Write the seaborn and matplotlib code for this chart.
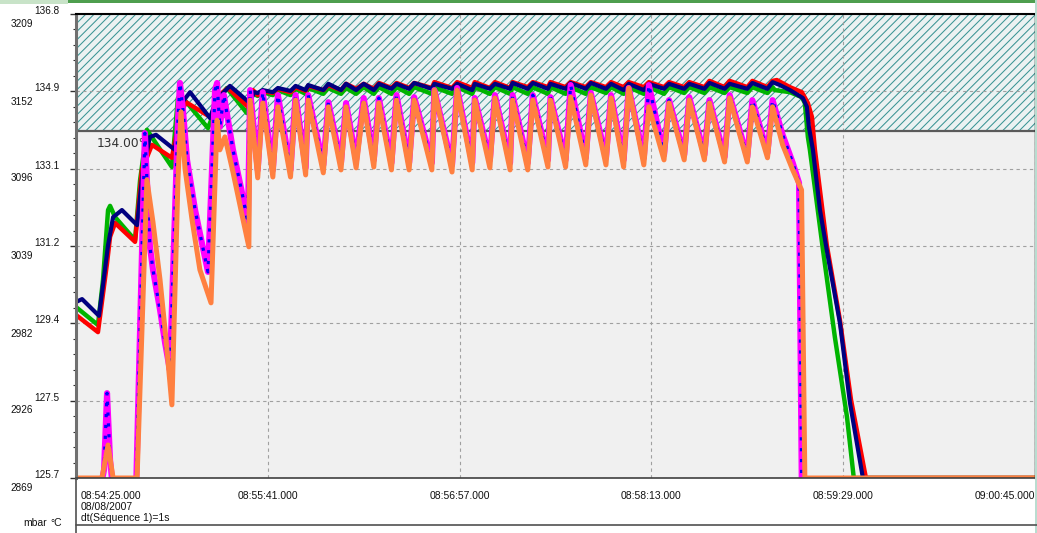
import matplotlib
matplotlib.use("Agg")
import matplotlib.pyplot as plt
import seaborn as sns
import pandas as pd
from matplotlib.ticker import AutoMinorLocator
from matplotlib.patches import Rectangle
from matplotlib.lines import Line2D
from matplotlib.transforms import ScaledTranslation

# ---------------- axis data ----------------
x_ticks = [0, 76, 152, 228, 304, 380]          # seconds after 08:54:25
x_labels = ["08:54:25.000", "08:55:41.000", "08:56:57.000",
            "08:58:13.000", "08:59:29.000", "09:00:45.000"]
temp_ticks = [125.7, 127.55, 129.4, 131.25, 133.1, 134.95, 136.8]
temp_labels = ["125.7", "127.5", "129.4", "131.2", "133.1", "134.9", "136.8"]
mbar_ticks = [2869, 2926, 2982, 3039, 3096, 3152, 3209]
threshold = 134.0
threshold_label = "134.00°C"

# ---------------- pulse timing (s) ----------------
tooth_peak_t = [69, 74, 80, 87, 92, 100, 107, 114, 120, 127, 134, 142, 151, 158, 166,
                173, 181, 188, 196, 204, 212, 219, 227, 235, 243, 251, 259, 268, 276]
tooth_trough_t = [72, 78, 85, 91, 98, 105, 111, 118, 125, 132, 141, 149, 157, 164,
                  172, 179, 187, 194, 202, 210, 217, 225, 233, 241, 249, 257, 266, 274]

# ---------------- navy series ----------------
navy_early_t = [0, 2.4, 9.1, 10.7, 12.7, 14.7, 18.2, 24.2, 26.5, 29.3, 31.7, 39.2, 41.2,
                45.2, 53.1, 55.5, 61.0, 68.9, 70.5]
navy_early_v = [129.91, 129.98, 129.58, 130.32, 131.27, 131.94, 132.11, 131.75, 133.07,
                133.86, 133.91, 133.55, 134.62, 134.93, 134.31, 134.74, 135.08, 134.67, 134.93]
navy_trough_v = [134.91, 134.93, 134.96, 134.98, 134.98, 134.98, 134.98, 134.98, 135.01, 135.01,
                 135.01, 135.01, 134.98, 135.01, 135.01, 135.01, 135.01, 135.01, 135.01, 135.01,
                 134.98, 134.98, 135.01, 135.01, 135.01, 135.01, 135.01, 135.01]
navy_peak_v = [134.98, 135.03, 135.08, 135.10, 135.13, 135.13, 135.13, 135.13, 135.13, 135.15,
               135.13, 135.13, 135.13, 135.13, 135.15, 135.15, 135.13, 135.15, 135.15, 135.13,
               135.13, 135.13, 135.13, 135.13, 135.15, 135.13, 135.15, 135.17]
navy_tail_t = [278.9, 282.9, 288.0, 289.6, 290.4, 292.0, 294.8, 297.5, 302.7, 306.7, 311.8, 380]
navy_tail_v = [135.10, 134.98, 134.79, 134.58, 134.10, 133.55, 132.11, 131.15, 129.41,
               127.49, 125.70, 125.70]

# ---------------- red series ----------------
red_early_t = [0, 8.7, 12.3, 13.5, 15.5, 23.4, 26.1, 30.1, 38.0, 41.2, 43.6, 53.9, 57.8,
               60.2, 68.1, 70.1]
red_early_v = [129.60, 129.19, 130.84, 131.47, 131.80, 131.35, 133.07, 133.67, 133.36,
               134.38, 134.69, 134.31, 134.91, 135.03, 134.58, 134.98]
red_trough_v = [134.86, 134.91, 134.93, 134.96, 134.98, 134.98, 135.01, 135.01, 135.03, 135.03,
                135.03, 135.03, 135.03, 135.03, 135.03, 135.05, 135.05, 135.05, 135.05, 135.05,
                135.05, 135.05, 135.05, 135.05, 135.05, 135.05, 135.05, 135.05]
red_peak_v = [134.96, 135.01, 135.05, 135.08, 135.10, 135.13, 135.13, 135.15, 135.15, 135.15,
              135.17, 135.17, 135.17, 135.17, 135.17, 135.17, 135.17, 135.17, 135.17, 135.17,
              135.17, 135.17, 135.17, 135.17, 135.20, 135.20, 135.20, 135.20]
red_tail_t = [277.7, 282.9, 287.6, 290.0, 291.6, 292.8, 297.5, 302.7, 307.1, 313.0, 380]
red_tail_v = [135.22, 135.05, 134.93, 134.67, 134.34, 133.55, 131.27, 129.48, 127.57,
              125.70, 125.70]

# ---------------- green series ----------------
green_early_t = [0, 8.7, 10.7, 12.7, 13.5, 15.5, 23.4, 25.4, 28.1, 38.0, 40.4, 42.4, 52.3,
                 57.1, 59.8, 67.7, 69.7]
green_early_v = [129.79, 129.36, 130.44, 132.11, 132.21, 131.94, 131.39, 132.83, 134.03,
                 133.14, 134.79, 134.79, 134.07, 134.81, 135.03, 134.43, 134.91]
green_trough_v = [134.84, 134.86, 134.86, 134.89, 134.89, 134.89, 134.89, 134.89, 134.89, 134.89,
                  134.89, 134.89, 134.89, 134.89, 134.89, 134.89, 134.89, 134.89, 134.89, 134.91,
                  134.89, 134.89, 134.89, 134.91, 134.91, 134.91, 134.91, 134.91]
green_peak_v = [134.93, 134.98, 135.01, 135.03, 135.03, 135.03, 135.05, 135.05, 135.05, 135.05,
                135.05, 135.05, 135.05, 135.05, 135.05, 135.05, 135.05, 135.05, 135.05, 135.05,
                135.05, 135.05, 135.05, 135.05, 135.05, 135.05, 135.05, 135.05]
green_tail_t = [276.9, 282.9, 287.6, 288.8, 290.0, 290.8, 296.0, 300.7, 305.5, 308.2, 380]
green_tail_v = [134.98, 134.93, 134.81, 134.67, 133.86, 133.55, 131.15, 129.07, 127.16,
                125.70, 125.70]

# ---------------- magenta series (blue dotted follows it) ----------------
mag_early_t = [0, 9.5, 11.1, 12.3, 13.5, 14.7, 23.8, 27.3, 28.1, 29.3, 30.5, 33.3, 35.3, 37.2,
               40.4, 41.2, 42.4, 44.0, 47.2, 49.9, 52.3, 55.1, 55.9, 57.0, 58.6, 62.2, 65.8, 68.1]
mag_early_v = [125.40, 125.40, 125.89, 127.73, 126.13, 125.40, 125.40, 133.95, 132.83, 131.23,
               130.68, 129.72, 128.93, 128.28, 134.26, 135.15, 134.50, 133.31, 132.11, 131.32,
               130.63, 134.98, 135.15, 134.10, 134.86, 133.55, 132.52, 131.80]
mag_peak_v = [134.98, 134.93, 134.86, 134.86, 134.86, 134.69, 134.67, 134.79, 134.79, 134.86,
              134.81, 134.98, 135.03, 134.79, 134.86, 134.86, 134.86, 134.81, 135.10, 134.91,
              134.86, 135.03, 135.10, 134.74, 134.81, 134.74, 134.86, 134.74, 134.74]
mag_trough_v = [133.07, 133.07, 133.07, 133.12, 133.19, 133.24, 133.31, 133.31, 133.24, 133.24,
                133.24, 133.19, 133.24, 133.31, 133.24, 133.24, 133.31, 133.31, 133.36, 133.36,
                133.31, 133.36, 133.43, 133.43, 133.43, 133.38, 133.38, 133.48]
mag_tail_t = [280, 284, 286.5, 287.6, 380]
mag_tail_v = [133.91, 133.24, 132.76, 125.40, 125.40]

# ---------------- orange series ----------------
org_early_t = [0, 10.3, 12.7, 14.7, 24.2, 28.1, 30.5, 33.3, 35.7, 38.0, 40.4, 41.6, 43.2,
               46.0, 49.1, 53.5, 55.9, 57.0, 59.0, 62.2, 65.8, 68.5]
org_early_v = [125.70, 125.70, 126.49, 125.70, 125.70, 132.83, 131.82, 130.44, 128.99, 127.45,
               132.83, 134.46, 133.10, 131.87, 130.68, 129.89, 134.26, 133.55, 133.86, 133.02,
               131.99, 131.23]
org_peak_v = [134.74, 134.67, 134.58, 134.74, 134.74, 134.58, 134.58, 134.67, 134.67, 134.74,
              134.74, 134.98, 134.98, 134.74, 134.79, 134.74, 134.74, 134.74, 134.81, 134.86,
              134.79, 135.03, 134.58, 134.67, 134.74, 134.67, 134.79, 134.58, 134.58]
org_trough_v = [132.88, 132.90, 132.90, 132.95, 133.00, 133.07, 133.12, 133.14, 133.07, 133.07,
                133.07, 133.02, 133.07, 133.12, 133.07, 133.07, 133.14, 133.14, 133.19, 133.19,
                133.14, 133.19, 133.31, 133.31, 133.31, 133.26, 133.26, 133.36]
org_tail_t = [280, 284, 287.5, 288.8, 380]
org_tail_v = [133.67, 133.07, 132.59, 125.70, 125.70]


def smooth_series(early_t, early_v, trough_v, peak_v, tail_t, tail_v):
    t, v = list(early_t), list(early_v)
    for i in range(len(tooth_trough_t)):
        t += [tooth_trough_t[i], tooth_peak_t[i + 1]]
        v += [trough_v[i], peak_v[i]]
    return pd.DataFrame({"t": t + tail_t, "v": v + tail_v})


def pulse_series(early_t, early_v, peak_v, trough_v, tail_t, tail_v):
    t, v = list(early_t), list(early_v)
    for i in range(len(tooth_peak_t)):
        t.append(tooth_peak_t[i]); v.append(peak_v[i])
        if i < len(tooth_trough_t):
            t.append(tooth_trough_t[i]); v.append(trough_v[i])
    return pd.DataFrame({"t": t + tail_t, "v": v + tail_v})


sns.set_style("white")
plt.rcParams["font.family"] = ["Liberation Sans", "DejaVu Sans"]
plt.rcParams["hatch.linewidth"] = 0.75

W, H = 1037, 533
fig = plt.figure(figsize=(W / 100, H / 100), dpi=100)
fig.patch.set_facecolor("white")
ax = fig.add_axes([76 / W, 55 / H, 959 / W, 464 / H])
ax.set_facecolor("#f0f0f0")

# alarm zone
ax.axhspan(threshold, 136.8, facecolor="#ebf2f2", edgecolor="#3a9494", hatch="////",
           linewidth=0, zorder=0.5)
ax.axhline(threshold, color="#5a5a5a", lw=1.6, zorder=1)
ax.text(8.3, 133.71, threshold_label, fontsize=8.8, color="#303030", va="center",
        ha="left", family=["DejaVu Sans"], zorder=1.8)

styles = [
    (smooth_series(green_early_t, green_early_v, green_trough_v, green_peak_v, green_tail_t, green_tail_v), "#00b400", 3.2, 2.0, "-"),
    (smooth_series(red_early_t, red_early_v, red_trough_v, red_peak_v, red_tail_t, red_tail_v), "#ff0000", 3.2, 2.1, "-"),
    (smooth_series(navy_early_t, navy_early_v, navy_trough_v, navy_peak_v, navy_tail_t, navy_tail_v), "#000080", 3.0, 2.2, "-"),
    (pulse_series(mag_early_t, mag_early_v, mag_peak_v, mag_trough_v, mag_tail_t, mag_tail_v), "#ff00ff", 4.4, 2.3, "-"),
    (pulse_series(mag_early_t, mag_early_v, mag_peak_v, mag_trough_v, mag_tail_t, mag_tail_v), "#0000ff", 2.3, 2.4, (0, (1.0, 2.4))),
    (pulse_series(org_early_t, org_early_v, org_peak_v, org_trough_v, org_tail_t, org_tail_v), "#ff8040", 3.6, 2.5, "-"),
]
for df, col, lw, z, ls in styles:
    sns.lineplot(data=df, x="t", y="v", ax=ax, color=col, linewidth=lw, estimator=None,
                 sort=False, zorder=z, linestyle=ls, solid_joinstyle="round")

ax.set_xlabel("")
ax.set_ylabel("")
ax.set_xlim(0, 380)
ax.set_ylim(125.7, 136.8)

ax.grid(True, which="major", axis="both", color="#a0a0a0", linestyle=(0, (3, 3)), linewidth=0.8)

# x axis
ax.set_xticks(x_ticks, x_labels)
ax.tick_params(axis="x", length=6, width=0.8, color="#b0b0b0", pad=3.5, labelsize=7.5,
               labelcolor="#111111")
xl = ax.get_xticklabels()
xl[0].set_ha("left")
xl[0].set_transform(xl[0].get_transform() + ScaledTranslation(0.05, 0, fig.dpi_scale_trans))
xl[-1].set_ha("right")

# temperature axis
ax.set_yticks(temp_ticks, temp_labels)
ax.yaxis.set_minor_locator(AutoMinorLocator(5))
ax.tick_params(axis="y", which="major", length=4, width=1, color="#303030", pad=8,
               labelsize=7.2, labelcolor="#111111")
ax.tick_params(axis="y", which="minor", length=2.5, width=0.8, color="#303030")
for lab in ax.get_yticklabels():
    lab.set_va("baseline")

# pressure axis (left, outer)
ax2 = ax.twinx()
ax2.set_ylim(2869, 3209)
ax2.set_yticks(mbar_ticks, [str(m) for m in mbar_ticks])
ax2.yaxis.tick_left()
ax2.tick_params(axis="y", length=0, pad=31, labelsize=7.2, labelcolor="#111111")
for lab in ax2.get_yticklabels():
    lab.set_va("top")
    lab.set_transform(lab.get_transform() + ScaledTranslation(0, -0.05, fig.dpi_scale_trans))
for s in ax2.spines.values():
    s.set_visible(False)

ax.spines["left"].set(color="#707070", linewidth=2.2)
ax.spines["top"].set(color="#000000", linewidth=1.5)
ax.spines["right"].set(color="#000000", linewidth=1.0)
ax.spines["bottom"].set(color="#404040", linewidth=1.2)

# figure decorations
fig.text(81 / W, 1 - 507 / H, "08/08/2007", fontsize=7.5, va="center", ha="left", color="#111111")
fig.text(81 / W, 1 - 518 / H, "dt(Séquence 1)=1s", fontsize=7.5, va="center", ha="left", color="#111111")
fig.text(23 / W, 1 - 523 / H, "mbar", fontsize=7.5, va="center", ha="left", color="#111111")
fig.text(50 / W, 1 - 523 / H, "°C", fontsize=7.5, va="center", ha="left", color="#111111")
fig.add_artist(Line2D([76 / W, 1], [1 - 525 / H] * 2, color="#505050", lw=1.2))
fig.add_artist(Line2D([76 / W] * 2, [0, 55 / H], color="#505050", lw=1.2))
fig.add_artist(Rectangle((0, 1 - 4 / H), 68 / W, 4 / H, transform=fig.transFigure,
                         color="#c8e3c8", lw=0))
fig.add_artist(Rectangle((68 / W, 1 - 3 / H), 1 - 68 / W, 3 / H, transform=fig.transFigure,
                         color="#4e9e4e", lw=0))
fig.add_artist(Rectangle((1034.5 / W, 0), 2.5 / W, 1, transform=fig.transFigure,
                         color="#b9ddd0", lw=0))

fig.savefig("out.png", dpi=100)
